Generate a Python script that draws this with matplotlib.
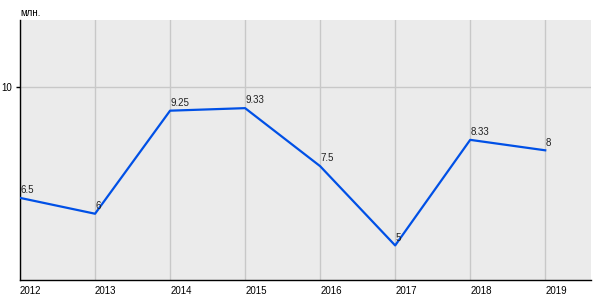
import matplotlib.pyplot as plt

plt.rcParams["font.family"] = ["Liberation Sans", "DejaVu Sans"]

# data
years = [2012, 2013, 2014, 2015, 2016, 2017, 2018, 2019]
values = [6.5, 6, 9.25, 9.33, 7.5, 5, 8.33, 8]
labels = ["6.5", "6", "9.25", "9.33", "7.5", "5", "8.33", "8"]
y_ticks = [10]

fig = plt.figure(figsize=(6, 3), dpi=100)
ax = fig.add_axes([20 / 600, 20 / 300, 571 / 600, 260 / 300])
ax.set_facecolor("#ebebeb")

ax.plot(years, values, color="#0050e6", linewidth=1.6, zorder=3)

# value labels sit just above-right of each point
for x, y, s in zip(years, values, labels):
    ax.annotate(s, (x, y), xytext=(0, 2), textcoords="offset points",
                ha="left", va="bottom", fontsize=7, color="#222222", zorder=4)

ax.set_xlim(2012, 2019.61)
ax.set_ylim(3.91, 12.11)
ax.set_xticks(years)
ax.set_xticklabels([str(y) for y in years], ha="left", fontsize=7)
ax.set_yticks(y_ticks)
ax.set_yticklabels([str(t) for t in y_ticks], fontsize=7)
ax.tick_params(axis="x", length=0, pad=4)
ax.tick_params(axis="y", length=3, width=1, pad=3)

ax.grid(True, color="#c8c8c8", linewidth=1, zorder=0)
ax.set_axisbelow(True)
for side in ["top", "right"]:
    ax.spines[side].set_visible(False)
for side in ["left", "bottom"]:
    ax.spines[side].set_color("black")
    ax.spines[side].set_linewidth(1)

fig.text(20 / 600, 1 - 13 / 300, "млн.", fontsize=7, ha="left", va="center")

fig.savefig("out.png", dpi=100, facecolor="white")
